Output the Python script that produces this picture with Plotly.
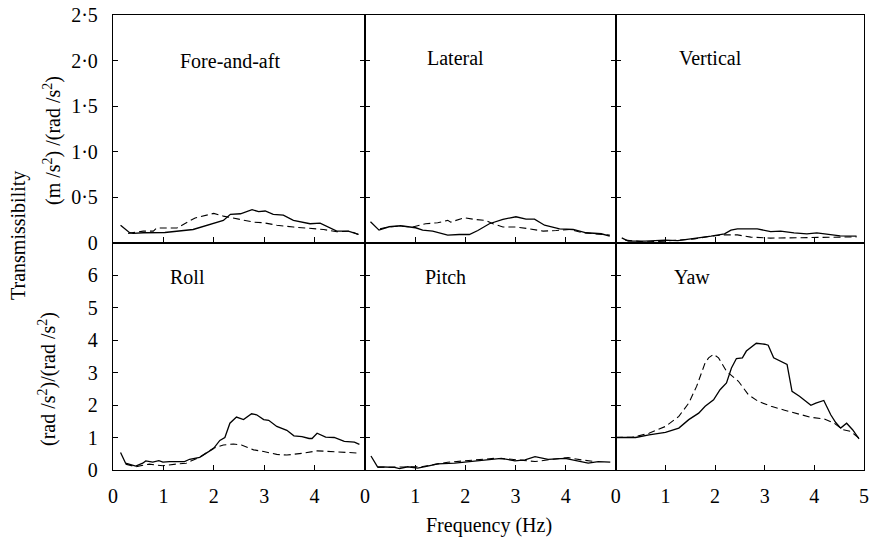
import plotly.graph_objects as go
from plotly.subplots import make_subplots

# ---------------- data (frequency in Hz, transmissibility) ----------------
fore_solid_f = [0.15, 0.33, 0.4, 0.6, 1.03, 1.59, 2.19, 2.33, 2.53, 2.76, 2.89, 3.02, 3.18, 3.38, 3.58, 3.91, 4.11, 4.24, 4.44, 4.67, 4.87]
fore_solid_t = [0.19, 0.107, 0.10, 0.107, 0.11, 0.143, 0.243, 0.31, 0.316, 0.36, 0.34, 0.346, 0.31, 0.30, 0.243, 0.206, 0.213, 0.18, 0.125, 0.125, 0.088]
fore_dash_f = [0.3, 0.6, 0.8, 0.87, 1.1, 1.27, 1.63, 2.0, 2.19, 2.59, 2.79, 2.99, 3.25, 3.58, 3.91, 4.18, 4.44, 4.71, 4.87]
fore_dash_t = [0.10, 0.125, 0.125, 0.16, 0.16, 0.16, 0.27, 0.32, 0.29, 0.243, 0.224, 0.217, 0.19, 0.17, 0.154, 0.143, 0.118, 0.125, 0.088]

lat_solid_f = [0.11, 0.28, 0.48, 0.71, 1.01, 1.15, 1.35, 1.65, 1.88, 2.08, 2.25, 2.48, 2.75, 3.01, 3.21, 3.38, 3.58, 3.88, 4.15, 4.41, 4.71, 4.88]
lat_solid_t = [0.228, 0.136, 0.173, 0.184, 0.162, 0.136, 0.125, 0.081, 0.088, 0.088, 0.132, 0.206, 0.254, 0.283, 0.257, 0.257, 0.19, 0.15, 0.143, 0.107, 0.096, 0.07]
lat_dash_f = [0.3, 0.45, 0.68, 0.95, 1.21, 1.45, 1.65, 1.71, 1.98, 2.18, 2.41, 2.55, 2.75, 3.01, 3.28, 3.55, 3.81, 4.08, 4.35, 4.61, 4.88]
lat_dash_t = [0.15, 0.17, 0.18, 0.17, 0.206, 0.217, 0.243, 0.224, 0.272, 0.254, 0.243, 0.206, 0.17, 0.17, 0.15, 0.125, 0.132, 0.143, 0.107, 0.096, 0.081]

vert_solid_f = [0.12, 0.25, 0.59, 0.99, 1.25, 1.59, 1.92, 2.19, 2.32, 2.45, 2.85, 3.12, 3.32, 3.59, 3.85, 4.05, 4.25, 4.52, 4.85]
vert_solid_t = [0.05, 0.015, 0.015, 0.026, 0.02, 0.044, 0.07, 0.095, 0.136, 0.15, 0.15, 0.12, 0.125, 0.106, 0.095, 0.106, 0.092, 0.073, 0.07]
vert_dash_f = [0.19, 0.59, 0.99, 1.59, 1.92, 2.19, 2.45, 2.72, 3.12, 3.52, 3.92, 4.32, 4.85]
vert_dash_t = [0.026, 0.007, 0.015, 0.04, 0.07, 0.084, 0.084, 0.059, 0.048, 0.051, 0.059, 0.062, 0.062]

roll_solid_f = [0.15, 0.25, 0.45, 0.59, 0.65, 0.79, 0.91, 0.99, 1.12, 1.42, 1.52, 1.72, 1.85, 1.99, 2.12, 2.22, 2.32, 2.45, 2.59, 2.75, 2.85, 2.99, 3.09, 3.25, 3.45, 3.59, 3.75, 3.89, 3.95, 4.05, 4.22, 4.39, 4.59, 4.79, 4.89]
roll_solid_t = [0.54, 0.21, 0.12, 0.21, 0.28, 0.24, 0.29, 0.24, 0.26, 0.26, 0.33, 0.39, 0.52, 0.65, 0.91, 1.0, 1.44, 1.63, 1.55, 1.73, 1.70, 1.55, 1.53, 1.34, 1.22, 1.05, 1.03, 0.97, 0.97, 1.13, 1.01, 1.0, 0.88, 0.86, 0.79]
roll_dash_f = [0.25, 0.45, 0.72, 0.99, 1.25, 1.45, 1.72, 1.99, 2.19, 2.39, 2.55, 2.79, 2.99, 3.25, 3.45, 3.79, 4.05, 4.32, 4.59, 4.89]
roll_dash_t = [0.18, 0.10, 0.18, 0.13, 0.18, 0.21, 0.39, 0.67, 0.77, 0.80, 0.77, 0.62, 0.57, 0.48, 0.46, 0.52, 0.59, 0.57, 0.55, 0.52]

pitch_solid_f = [0.12, 0.25, 0.59, 0.69, 0.85, 1.05, 1.25, 1.45, 1.79, 2.12, 2.45, 2.72, 2.99, 3.19, 3.39, 3.65, 3.99, 4.19, 4.45, 4.65, 4.89]
pitch_solid_t = [0.43, 0.10, 0.08, 0.04, 0.10, 0.06, 0.12, 0.19, 0.21, 0.26, 0.33, 0.36, 0.28, 0.31, 0.41, 0.33, 0.36, 0.29, 0.21, 0.26, 0.24]
pitch_dash_f = [0.25, 0.79, 1.12, 1.65, 2.12, 2.59, 2.92, 3.39, 3.79, 4.05, 4.32, 4.59]
pitch_dash_t = [0.08, 0.08, 0.10, 0.24, 0.31, 0.36, 0.33, 0.26, 0.34, 0.38, 0.31, 0.26]

yaw_solid_f = [0.0, 0.4, 0.67, 1.0, 1.27, 1.47, 1.67, 1.8, 1.97, 2.1, 2.23, 2.33, 2.43, 2.55, 2.63, 2.83, 3.0, 3.07, 3.18, 3.33, 3.45, 3.55, 3.7, 3.93, 4.03, 4.19, 4.33, 4.43, 4.53, 4.65, 4.77, 4.9]
yaw_solid_t = [1.0, 1.0, 1.08, 1.16, 1.29, 1.55, 1.75, 1.96, 2.16, 2.47, 2.68, 3.14, 3.43, 3.45, 3.66, 3.9, 3.87, 3.84, 3.45, 3.35, 3.25, 2.42, 2.27, 1.99, 2.06, 2.14, 1.70, 1.46, 1.29, 1.44, 1.24, 0.96]
yaw_dash_f = [0.0, 0.33, 0.67, 1.0, 1.27, 1.47, 1.63, 1.8, 1.87, 1.97, 2.07, 2.23, 2.47, 2.67, 2.87, 3.13, 3.4, 3.67, 3.93, 4.2, 4.4, 4.57, 4.73, 4.9]
yaw_dash_t = [1.0, 1.01, 1.13, 1.34, 1.65, 2.06, 2.58, 3.30, 3.45, 3.56, 3.45, 3.04, 2.73, 2.32, 2.11, 1.96, 1.84, 1.72, 1.62, 1.57, 1.44, 1.24, 1.19, 0.98]

panel_names = ["Fore-and-aft", "Lateral", "Vertical", "Roll", "Pitch", "Yaw"]
top_ytick_vals = [0, 0.5, 1.0, 1.5, 2.0, 2.5]
top_ytick_text = ["0", "0·5", "1·0", "1·5", "2·0", "2·5"]
bot_ytick_vals = [0, 1, 2, 3, 4, 5, 6]
bot_ytick_text = ["0", "1", "2", "3", "4", "5", "6"]
xtick_vals_first = [0, 1, 2, 3, 4]
xtick_vals_last = [0, 1, 2, 3, 4, 5]

# ---------------- figure ----------------
FONT = "'Liberation Serif', 'Times New Roman', Times, serif"
fig = make_subplots(rows=2, cols=3, horizontal_spacing=0, vertical_spacing=0)

series = [
    (1, 1, fore_solid_f, fore_solid_t, fore_dash_f, fore_dash_t),
    (1, 2, lat_solid_f, lat_solid_t, lat_dash_f, lat_dash_t),
    (1, 3, vert_solid_f, vert_solid_t, vert_dash_f, vert_dash_t),
    (2, 1, roll_solid_f, roll_solid_t, roll_dash_f, roll_dash_t),
    (2, 2, pitch_solid_f, pitch_solid_t, pitch_dash_f, pitch_dash_t),
    (2, 3, yaw_solid_f, yaw_solid_t, yaw_dash_f, yaw_dash_t),
]
for r, c, sf, st, df, dt in series:
    fig.add_trace(go.Scatter(x=sf, y=st, mode="lines",
                             line=dict(color="black", width=1.3),
                             showlegend=False, hoverinfo="skip"), row=r, col=c)
    fig.add_trace(go.Scatter(x=df, y=dt, mode="lines",
                             line=dict(color="black", width=1.1, dash="7px,4px"),
                             showlegend=False, hoverinfo="skip"), row=r, col=c)

xdomains = [[0, 0.3355], [0.3355, 0.6695], [0.6695, 1]]
ydomains = {1: [0.5, 1], 2: [0, 0.5]}

for r in (1, 2):
    for c in (1, 2, 3):
        fig.update_xaxes(row=r, col=c, domain=xdomains[c - 1], range=[0, 5],
                         automargin=False,
                         showgrid=False, zeroline=False, showline=True,
                         linecolor="black", linewidth=1.4, mirror=True,
                         ticks="inside", ticklen=5, tickwidth=1.2, tickcolor="black",
                         tickvals=xtick_vals_last if c == 3 else xtick_vals_first,
                         showticklabels=(r == 2),
                         tickfont=dict(family=FONT, size=20, color="black"),
                         ticklabelstandoff=8)
        fig.update_yaxes(row=r, col=c, domain=ydomains[r],
                         range=[0, 2.5] if r == 1 else [0, 7],
                         automargin=False,
                         showgrid=False, zeroline=False, showline=True,
                         linecolor="black", linewidth=1.4,
                         mirror="ticks" if c < 3 else True,
                         ticks="inside", ticklen=5, tickwidth=1.2, tickcolor="black",
                         tickvals=top_ytick_vals if r == 1 else bot_ytick_vals,
                         ticktext=top_ytick_text if r == 1 else bot_ytick_text,
                         showticklabels=(c == 1),
                         tickfont=dict(family=FONT, size=20, color="black"),
                         ticklabelstandoff=10)

# panel labels (positioned in data coordinates of each subplot)
label_pos = [(2.32, 2.0), (1.8, 2.03), (1.9, 2.03), (1.48, 5.94), (1.6, 5.94), (1.53, 5.94)]
axis_ids = ["", "2", "3", "4", "5", "6"]
for name, (lx, ly), aid in zip(panel_names, label_pos, axis_ids):
    fig.add_annotation(text=name, x=lx, y=ly, xref="x" + aid, yref="y" + aid,
                       showarrow=False, xanchor="center", yanchor="middle",
                       font=dict(family=FONT, size=20, color="black"))

W, H = 873, 538
L, R, T, B = 113, 9, 15, 68
pw, ph = W - L - R, H - T - B


def px(x):
    return (x - L) / pw


def py(y):
    return (H - B - y) / ph


fig.add_annotation(text="Transmissibility", x=px(18), y=py(236), xref="paper", yref="paper",
                   textangle=-90, showarrow=False, xanchor="center", yanchor="middle",
                   font=dict(family=FONT, size=20, color="black"))
fig.add_annotation(text="(m /s<sup>2</sup>) /(rad /s<sup>2</sup>)", x=px(52), y=py(140),
                   xref="paper", yref="paper", textangle=-90, showarrow=False,
                   xanchor="center", yanchor="middle",
                   font=dict(family=FONT, size=20, color="black"))
fig.add_annotation(text="(rad /s<sup>2</sup>)/(rad /s<sup>2</sup>)", x=px(47), y=py(379),
                   xref="paper", yref="paper", textangle=-90, showarrow=False,
                   xanchor="center", yanchor="middle",
                   font=dict(family=FONT, size=20, color="black"))
fig.add_annotation(text="Frequency (Hz)", x=0.5, y=py(525), xref="paper", yref="paper",
                   showarrow=False, xanchor="center", yanchor="middle",
                   font=dict(family=FONT, size=20, color="black"))

fig.update_layout(width=W, height=H, margin=dict(l=L, r=R, t=T, b=B, autoexpand=False),
                  paper_bgcolor="white", plot_bgcolor="white",
                  font=dict(family=FONT, size=20, color="black"))

fig.write_html("out.html", config={"displayModeBar": False},
               post_script="document.body.style.margin='0';document.body.style.padding='0';")
